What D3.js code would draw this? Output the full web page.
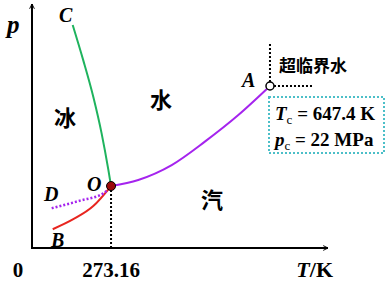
<!DOCTYPE html>
<html>
<head>
<meta charset="utf-8">
<script src="https://cdn.jsdelivr.net/npm/d3@7"></script>
<style>
  body { margin: 0; background: #fff; }
  .lat { font-family: "Liberation Serif", "Times New Roman", serif; font-weight: bold; }
  .cjk { font-family: "Noto Sans CJK SC", sans-serif; font-weight: bold; }
</style>
</head>
<body>
<div id="chart"></div>
<script>
// schematic phase diagram of water, coordinates in arbitrary 0-100 units
var fusionCurve = [[13.75, 91.4], [17.3, 77.0], [20.7, 62.0], [23.5, 47.1], [25.8, 32.0], [26.7, 25.4]]; // O-C
var vaporCurve = [[26.7, 25.4], [35.9, 27.9], [47.2, 34.0], [58.4, 43.6], [69.7, 54.5], [80.4, 66.4]];    // O-A
var sublimCurve = [[7.0, 7.7], [13.95, 11.8], [20.7, 17.2], [26.7, 25.4]];   // B-O
var supercooled = [[6.65, 16.3], [16.2, 19.4], [24.1, 22.4], [26.7, 25.4]];  // D-O
var triplePoint = [26.7, 25.4];
var criticalPoint = [80.4, 66.4];
var tickLabels = ["0", "273.16"];
var critText = ["647.4 K", "22 MPa"];

var outerWidth = 386;
var outerHeight = 282;

var svg = d3.select('#chart').append('svg')
    .attr('width', outerWidth)
    .attr('height', outerHeight);

var x = d3.scaleLinear().domain([0, 100]).range([32, 328]);
var y = d3.scaleLinear().domain([0, 100]).range([248, 4]);

var defs = svg.append('defs');
defs.append('marker')
    .attr('id', 'arr')
    .attr('viewBox', '0 0 10 10')
    .attr('refX', 9).attr('refY', 5)
    .attr('markerWidth', 6).attr('markerHeight', 6)
    .attr('markerUnits', 'userSpaceOnUse')
    .attr('orient', 'auto')
  .append('path')
    .attr('d', 'M1,1 L9,5 L1,9')
    .attr('fill', 'none')
    .attr('stroke', '#000')
    .attr('stroke-width', 1.6);

// axes
svg.append('line')
    .attr('x1', x(0)).attr('y1', y(0))
    .attr('x2', x(0)).attr('y2', y(100))
    .attr('stroke', '#000').attr('stroke-width', 2)
    .attr('marker-end', 'url(#arr)');
svg.append('line')
    .attr('x1', x(0) - 1).attr('y1', y(0))
    .attr('x2', x(100)).attr('y2', y(0))
    .attr('stroke', '#000').attr('stroke-width', 2)
    .attr('marker-end', 'url(#arr)');

// guide lines
svg.append('line')
    .attr('x1', x(triplePoint[0])).attr('y1', y(triplePoint[1]))
    .attr('x2', x(triplePoint[0])).attr('y2', y(0))
    .attr('stroke', '#000').attr('stroke-width', 2)
    .attr('stroke-dasharray', '2,2');
svg.append('line')
    .attr('x1', x(criticalPoint[0])).attr('y1', y(criticalPoint[1]))
    .attr('x2', x(criticalPoint[0])).attr('y2', y(84))
    .attr('stroke', '#000').attr('stroke-width', 2)
    .attr('stroke-dasharray', '2,2');
svg.append('line')
    .attr('x1', x(criticalPoint[0])).attr('y1', y(criticalPoint[1]))
    .attr('x2', x(95)).attr('y2', y(criticalPoint[1]))
    .attr('stroke', '#000').attr('stroke-width', 2)
    .attr('stroke-dasharray', '2,2');

var line = d3.line()
    .x(function(d) { return x(d[0]); })
    .y(function(d) { return y(d[1]); })
    .curve(d3.curveMonotoneX);

svg.append('path').attr('d', line(fusionCurve))
    .attr('fill', 'none').attr('stroke', '#1fb35e').attr('stroke-width', 2);
svg.append('path').attr('d', line(vaporCurve))
    .attr('fill', 'none').attr('stroke', '#a524ee').attr('stroke-width', 2);
svg.append('path').attr('d', line(sublimCurve))
    .attr('fill', 'none').attr('stroke', '#e8251f').attr('stroke-width', 2);
svg.append('path').attr('d', line(supercooled))
    .attr('fill', 'none').attr('stroke', '#a524ee').attr('stroke-width', 2.5)
    .attr('stroke-dasharray', '2,2');

svg.append('circle')
    .attr('cx', x(triplePoint[0])).attr('cy', y(triplePoint[1])).attr('r', 4.5)
    .attr('fill', '#9b0a0a').attr('stroke', '#000').attr('stroke-width', 1);
svg.append('circle')
    .attr('cx', x(criticalPoint[0])).attr('cy', y(criticalPoint[1])).attr('r', 4)
    .attr('fill', '#fff').attr('stroke', '#000').attr('stroke-width', 1.5);

// info box
svg.append('rect')
    .attr('x', 269).attr('y', 97).attr('width', 115).attr('height', 56)
    .attr('fill', 'none').attr('stroke', '#4cbfc8').attr('stroke-width', 2)
    .attr('stroke-dasharray', '2,2');

function label(txt, px, py, size, cls, italic, anchor) {
    return svg.append('text')
        .attr('class', cls)
        .attr('x', px).attr('y', py)
        .attr('font-size', size)
        .attr('font-style', italic ? 'italic' : 'normal')
        .attr('text-anchor', anchor || 'start')
        .text(txt);
}

label('p', 7, 33, 25, 'lat', true);
label('C', 59, 22, 20, 'lat', true);
label('A', 242, 87, 20, 'lat', true);
label('O', 87, 191, 20, 'lat', true);
label('D', 44, 201, 20, 'lat', true);
label('B', 51, 247, 20, 'lat', true);
label('冰', 54, 126, 22, 'cjk', false);
label('水', 150, 108, 22, 'cjk', false);
label('汽', 201, 208, 22, 'cjk', false);
label('超临界水', 279, 72, 17, 'cjk', false);

label(tickLabels[0], x(0) - 14, 277, 21, 'lat', false, 'middle');
label(tickLabels[1], x(triplePoint[0]), 277, 21, 'lat', false, 'middle');

var tk = label('', 333, 277, 22, 'lat', false, 'end');
tk.append('tspan').attr('font-style', 'italic').text('T');
tk.append('tspan').text('/K');

var t1 = label('', 275, 120, 19, 'lat', false);
t1.append('tspan').attr('font-style', 'italic').text('T');
t1.append('tspan').attr('font-size', 13).attr('dy', 4).attr('font-weight', 'normal').text('c');
t1.append('tspan').attr('dy', -4).text(' = ' + critText[0]);

var t2 = label('', 275, 146, 19, 'lat', false);
t2.append('tspan').attr('font-style', 'italic').text('p');
t2.append('tspan').attr('font-size', 13).attr('dy', 4).attr('font-weight', 'normal').text('c');
t2.append('tspan').attr('dy', -4).text(' = ' + critText[1]);
</script>
</body>
</html>
